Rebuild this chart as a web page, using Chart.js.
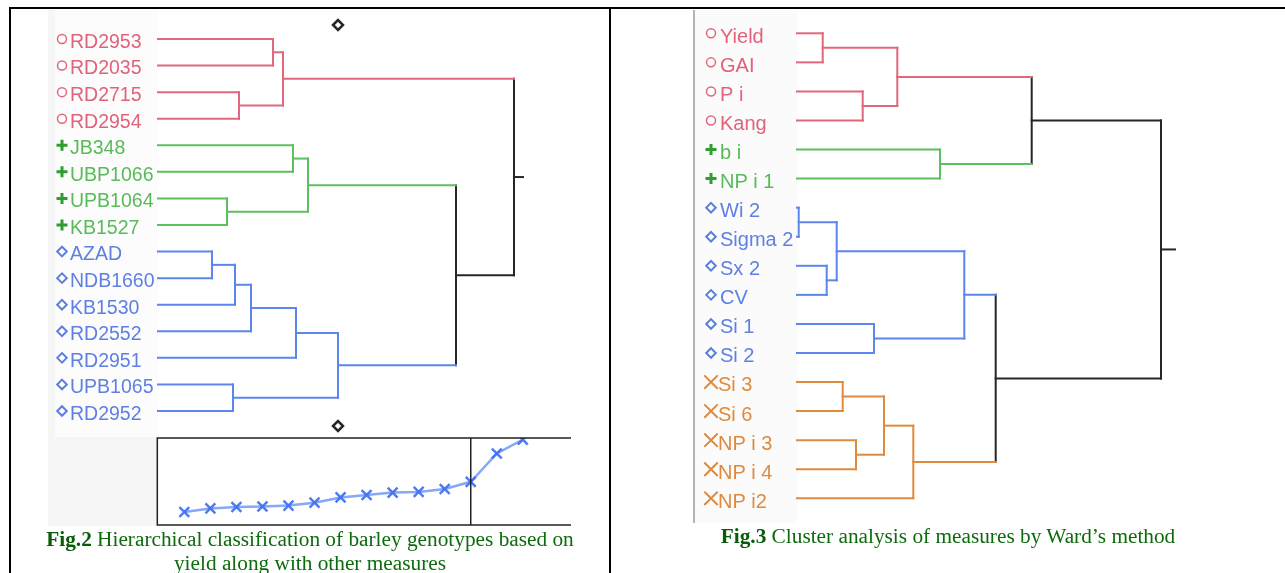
<!DOCTYPE html>
<html lang="en">
<head>
<meta charset="UTF-8">
<title>Cluster dendrograms</title>
<style type="text/css">
  body{margin:0;width:1285px;height:573px;overflow:hidden;background:#fff;position:relative}
  .rule{position:absolute;background:#000}
  .box{position:absolute}
  canvas{position:absolute}
  .caption{position:absolute;text-align:center;font-family:"Liberation Serif","Times New Roman",serif;font-size:21.3px;line-height:24px;color:#0d6b0d}
  .caption b{color:#075c07}
</style>
</head>
<body>
  <!-- table frame -->
  <div class="rule" style="left:9px;top:7px;width:1276px;height:2px"></div>
  <div class="rule" style="left:9px;top:7px;width:2px;height:566px"></div>
  <div class="rule" style="left:609px;top:7px;width:2px;height:566px"></div>

  <!-- left figure backgrounds -->
  <div class="box" style="left:48px;top:10px;width:110px;height:516px;background:#f6f6f6"></div>
  <div class="box" style="left:55px;top:10px;width:103px;height:427px;background:#fcfcfc"></div>
  <!-- right figure label strip -->
  <div class="box" style="left:693px;top:10px;width:2px;height:513px;background:#b4b4b4"></div>
  <div class="box" style="left:695px;top:10px;width:102px;height:513px;background:#fbfbfb"></div>

  <canvas id="genoChart" width="610" height="437" style="left:0;top:0"></canvas>
  <canvas id="screeChart" width="430" height="100" style="left:150px;top:430px"></canvas>
  <canvas id="measureChart" width="673" height="525" style="left:612px;top:0"></canvas>

  <div class="caption" style="left:11px;top:527px;width:598px"><b>Fig.2</b> Hierarchical classification of barley genotypes based on<br>yield along with other measures</div>
  <div class="caption" style="left:611px;top:524px;width:674px"><b>Fig.3</b> Cluster analysis of measures by Ward’s method</div>

<script src="https://cdn.jsdelivr.net/npm/chart.js"></script>
<script>
// ---- Fig.2 data: genotypes (top to bottom), cluster of each, linkage ----
const genotypes = ['RD2953','RD2035','RD2715','RD2954','JB348','UBP1066','UPB1064','KB1527',
  'AZAD','NDB1660','KB1530','RD2552','RD2951','UPB1065','RD2952'];
const genotypeGroup = [0,0,0,0,1,1,1,1,2,2,2,2,2,2,2];
// merge k joins nodes A[k] and B[k] (new node id = n + k) at distance H[k]
const genoMergeA = [8, 6, 13, 15, 2, 18, 0, 21, 4, 20, 23, 24, 25, 22];
const genoMergeB = [9, 7, 14, 10, 3, 11, 1, 19, 5, 12, 16, 17, 26, 27];
const genoMergeH = [5.4, 6.9, 7.5, 7.7, 8.1, 9.3, 11.5, 12.5, 13.5, 13.8, 15.0, 18.0, 29.8, 35.6];
const genoCut = 18.0;

// inset: merge distance against merge step
const mergeSteps = [1,2,3,4,5,6,7,8,9,10,11,12,13,14];
const cutStep = 12;

// ---- Fig.3 data: measures (top to bottom), cluster, linkage ----
const measures = ['Yield','GAI','P i','Kang','b i','NP i 1','Wi 2','Sigma 2','Sx 2','CV',
  'Si 1','Si 2','Si 3','Si 6','NP i 3','NP i 4','NP i2'];
const measureGroup = [0,0,0,0,1,1,2,2,2,2,2,2,3,3,3,3,3];
const measMergeA = [6, 0, 8, 17, 12, 14, 2, 10, 21, 18, 25, 4, 20, 29, 26, 31];
const measMergeB = [7, 1, 9, 19, 13, 15, 3, 11, 22, 23, 16, 5, 24, 27, 28, 30];
const measMergeH = [0.17, 2.57, 2.97, 3.97, 4.57, 5.9, 6.57, 7.7, 8.7, 10.03, 11.63, 14.3, 16.73, 19.87, 23.47, 36.4];

// ---- styles ----
const lineColors = ['#e2677a', '#5cc05c', '#5b86ee', '#e08a3c'];
const textColors = ['#e0637a', '#58bb58', '#5f80e2', '#de8a3e'];
const markColors = ['#e0677a', '#2f9d2f', '#5b7fdc', '#e0883a'];
const markStyles = [
  {pointStyle:'circle', radius:4.5, borderWidth:1.5},
  {pointStyle:'cross', radius:5.5, borderWidth:3},
  {pointStyle:'rectRot', radius:4.8, borderWidth:2},
  {pointStyle:'crossRot', radius:9.5, borderWidth:2}
];
const joinColor = '#262626';

function seg(points, color){
  return {data: points, showLine: true, borderColor: color, borderWidth: 2,
    pointRadius: 0, borderCapStyle: 'square', clip: false, tension: 0};
}

function dendroSets(group, A, B, H, stub){
  const n = group.length;
  const yOf = [], hOf = [], grp = [];
  for (let i = 0; i < n; i++){ yOf[i] = i; hOf[i] = 0; grp[i] = group[i]; }
  const sets = [];
  const col = g => g < 0 ? joinColor : lineColors[g];
  A.forEach((a, k) => {
    const b = B[k], id = n + k, h = H[k];
    yOf[id] = (yOf[a] + yOf[b]) / 2;
    hOf[id] = h;
    grp[id] = grp[a] === grp[b] ? grp[a] : -1;
    [a, b].forEach(c => sets.push(seg([{x:hOf[c], y:yOf[c]}, {x:h, y:yOf[c]}], col(grp[c]))));
    sets.push(seg([{x:h, y:yOf[a]}, {x:h, y:yOf[b]}], col(grp[id])));
  });
  const root = n + A.length - 1;
  sets.push(seg([{x:hOf[root], y:yOf[root]}, {x:hOf[root] + stub, y:yOf[root]}], joinColor));
  return sets;
}

// leaf labels with their cluster symbol
const leafLabels = {
  id: 'leafLabels',
  afterDatasetsDraw(chart, args, opts){
    const ctx = chart.ctx, ys = chart.scales.y;
    ctx.save();
    ctx.font = opts.font;
    ctx.textBaseline = 'alphabetic';
    opts.labels.forEach((t, i) => {
      const g = opts.group[i], y = ys.getPixelForValue(i);
      ctx.fillStyle = textColors[g];
      ctx.fillText(t, opts.textX[g], y + opts.dy);
      ctx.strokeStyle = markColors[g];
      ctx.fillStyle = '#ffffff';
      ctx.lineWidth = markStyles[g].borderWidth;
      Chart.helpers.drawPoint(ctx, markStyles[g], opts.markX, y);
    });
    if (opts.cut !== undefined){
      const x = chart.scales.x.getPixelForValue(opts.cut);
      ctx.strokeStyle = joinColor; ctx.fillStyle = '#fff'; ctx.lineWidth = 2.5;
      Chart.helpers.drawPoint(ctx, {pointStyle:'rectRot', radius:5, borderWidth:2.5}, x, chart.chartArea.top - 14);
      Chart.helpers.drawPoint(ctx, {pointStyle:'rectRot', radius:5, borderWidth:2.5}, x, chart.chartArea.bottom + 15);
    }
    ctx.restore();
  }
};

function dendroOptions(padding, xMax, yMax, labelOpts){
  return {
    responsive: false, animation: false,
    layout: {padding: padding, autoPadding: false},
    scales: {
      x: {type:'linear', min:0, max:xMax, display:false},
      y: {type:'linear', min:0, max:yMax, reverse:true, display:false}
    },
    plugins: {legend:{display:false}, tooltip:{enabled:false}, leafLabels: labelOpts}
  };
}

new Chart(document.getElementById('genoChart'), {
  type: 'scatter',
  data: {datasets: dendroSets(genotypeGroup, genoMergeA, genoMergeB, genoMergeH, 0.9)},
  options: dendroOptions({left:158, right:52, top:39, bottom:26}, 40, genotypes.length - 1,
    {labels: genotypes, group: genotypeGroup, font: '19.5px "Liberation Sans", Arial, sans-serif',
     textX: [70, 70, 70, 70], markX: 62, dy: 8.8, cut: genoCut}),
  plugins: [leafLabels]
});

new Chart(document.getElementById('measureChart'), {
  type: 'scatter',
  data: {datasets: dendroSets(measureGroup, measMergeA, measMergeB, measMergeH, 1.4)},
  options: dendroOptions({left:185, right:88, top:33.3, bottom:26.7}, 40, measures.length - 1,
    {labels: measures, group: measureGroup, font: '20px "Liberation Sans", Arial, sans-serif',
     textX: [720, 720, 720, 718].map(v => v - 612), markX: 711 - 612, dy: 9.4}),
  plugins: [leafLabels]
});

// inset frame + cut line
const screeFrame = {
  id: 'screeFrame',
  afterDatasetsDraw(chart){
    const {ctx, chartArea:a} = chart;
    const xc = chart.scales.x.getPixelForValue(cutStep);
    ctx.save();
    ctx.strokeStyle = '#222'; ctx.lineWidth = 1.5;
    ctx.beginPath();
    ctx.moveTo(a.right, a.top); ctx.lineTo(a.left - 1, a.top); ctx.lineTo(a.left - 1, a.bottom); ctx.lineTo(a.right, a.bottom);
    ctx.moveTo(xc, a.top); ctx.lineTo(xc, a.bottom);
    ctx.stroke();
    ctx.restore();
  }
};

new Chart(document.getElementById('screeChart'), {
  type: 'line',
  data: {datasets: [{
    data: mergeSteps.map((s, i) => ({x: s, y: genoMergeH[i]})),
    borderColor: 'rgba(70,120,245,0.65)', borderWidth: 2.5,
    pointStyle: 'crossRot', pointRadius: 7, pointBorderWidth: 2.5,
    pointBorderColor: 'rgba(60,110,240,0.9)', tension: 0, clip: 0
  }]},
  options: {
    responsive: false, animation: false,
    layout: {padding: {left:8.3, right:9, top:8, bottom:5}, autoPadding: false},
    scales: {
      x: {type:'linear', min:0, max:15.85, display:false},
      y: {type:'linear', min:0, max:36.25, display:false}
    },
    plugins: {legend:{display:false}, tooltip:{enabled:false}}
  },
  plugins: [screeFrame]
});
</script>
</body>
</html>
